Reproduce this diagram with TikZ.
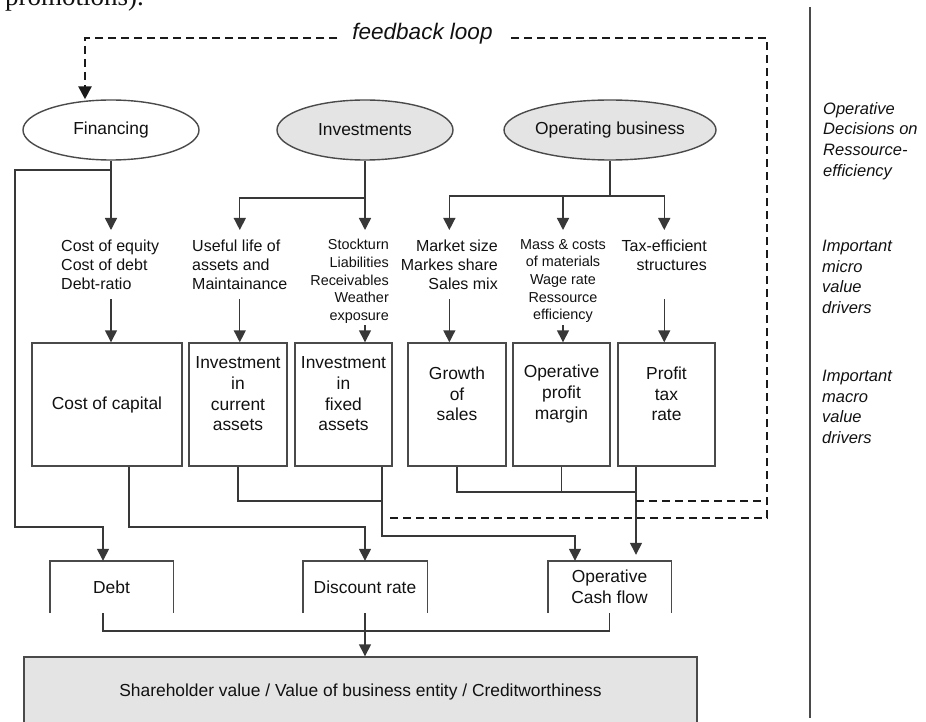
\documentclass[tikz,border=0pt]{standalone}
\usepackage{fontspec}
\setmainfont{Liberation Sans}
\newfontfamily\serifcut{Liberation Serif}
\usetikzlibrary{arrows.meta,shapes.geometric,calc}
\definecolor{linecol}{HTML}{383838}
\definecolor{boxcol}{HTML}{4A4A4A}
\definecolor{fillcol}{HTML}{E4E4E4}
\definecolor{txtcol}{HTML}{111111}
\definecolor{fbcol}{HTML}{1A1A1A}
\newcommand\fMic{\fontsize{16}{19}\selectfont}
\newcommand\fMis{\fontsize{14.4}{17.7}\selectfont}
\newcommand\fMac{\fontsize{17.4}{20.7}\selectfont}
\newcommand\fRt{\fontsize{16.5}{20.7}\selectfont\itshape}
\newcommand\fFb{\fontsize{22.5}{26}\selectfont\itshape}
\begin{document}
\begin{tikzpicture}[x=1pt,y=-1pt,
  conn/.style={draw=linecol,line width=1.4pt},
  arr/.style={conn,-{Triangle[width=12pt,length=12pt]}},
  fbline/.style={draw=fbcol,line width=2.6pt,dash pattern=on 8pt off 5pt},
  fbarr/.style={fbline,-{Triangle[width=13pt,length=13pt]}},
  boxline/.style={draw=boxcol,line width=1.4pt},
  oval/.style={ellipse,draw=boxcol,line width=1.4pt,minimum width=176pt,minimum height=60pt,inner sep=0pt,font=\fMac,text=txtcol},
  macbox/.style={rectangle,draw=boxcol,line width=1.4pt,minimum height=123pt,inner sep=0pt,text=txtcol},
  lowbox/.style={rectangle,minimum height=52pt,minimum width=123pt,inner sep=0pt,font=\fMac,align=center,text=txtcol},
  txt/.style={inner sep=0pt,text=txtcol},
  maclab/.style={txt,font=\fMac,align=center},
  rlab/.style={txt,font=\fRt,align=left,anchor=north west}
]
\useasboundingbox (0,0) rectangle (926,722);

% cut-off text at top of page
\node[txt,font=\serifcut\fontsize{27}{30}\selectfont,anchor=base west] (frag) at (5,6) {promotions).};

% level coordinates
\coordinate (h170) at (0,170);
\coordinate (h196) at (0,196);
\coordinate (h198) at (0,198);
\coordinate (h230) at (0,230);
\coordinate (h299) at (0,299);
\coordinate (h325) at (0,325);
\coordinate (h492) at (0,492);
\coordinate (h501) at (0,501);
\coordinate (h527) at (0,527);
\coordinate (h536) at (0,536);
\coordinate (h631) at (0,631);

% top level decisions
\node[oval] (fin) at (111,130) {Financing};
\node[oval,fill=fillcol] (inv) at (365,130) {Investments};
\node[oval,fill=fillcol] (opb) at (610,130) {Operating business};

% micro value drivers
\node[txt,font=\fMic,align=left,anchor=north west] (m1) at (61,240) {Cost of equity\\Cost of debt\\Debt-ratio};
\node[txt,font=\fMic,align=left,anchor=north west] (m2) at (192,240) {Useful life of\\assets and\\Maintainance};
\node[txt,font=\fMis,align=right,anchor=north east] (m3) at (389,239) {Stockturn\\Liabilities\\Receivables\\Weather\\exposure};
\node[txt,font=\fMic,align=right,anchor=north east] (m4) at (498,240) {Market size\\Markes share\\Sales mix};
\node[txt,font=\fMis,align=center,anchor=north] (m5) at (563,239) {Mass \& costs\\of materials\\Wage rate\\Ressource\\efficiency};
\node[txt,font=\fMic,align=right,anchor=north east] (m6) at (707,240) {Tax-efficient\\structures};

% macro value drivers
\node[macbox,minimum width=150pt,font=\fMac] (cc) at (107,404.5) {Cost of capital};
\node[macbox,minimum width=98pt] (ic) at (238,404.5) {};
\node[macbox,minimum width=97pt] (ifx) at (343.5,404.5) {};
\node[macbox,minimum width=98pt] (gs) at (457,404.5) {};
\node[macbox,minimum width=97pt] (opm) at (561.5,404.5) {};
\node[macbox,minimum width=97pt] (ptr) at (666.5,404.5) {};
\node[maclab] (icl) at (238,394) {Investment\\in\\current\\assets};
\node[maclab] (ifxl) at (343.5,394) {Investment\\in\\fixed\\assets};
\node[maclab] (gsl) at (457,394) {Growth\\of\\sales};
\node[maclab] (opml) at (561.5,394) {Operative\\profit\\margin};
\node[maclab] (ptrl) at (666.5,394) {Profit\\tax\\rate};

% lower boxes (open at the bottom)
\node[lowbox] (debt) at (111.5,587) {Debt};
\node[lowbox,minimum width=124pt] (dr) at (365,587) {Discount rate};
\node[lowbox] (ocf) at (609.5,587) {Operative\\Cash flow};
\draw[boxline] (debt.south west) |- (debt.north east) -- (debt.south east);
\draw[boxline] (dr.south west) |- (dr.north east) -- (dr.south east);
\draw[boxline] (ocf.south west) |- (ocf.north east) -- (ocf.south east);

% result
\node[rectangle,draw=boxcol,fill=fillcol,line width=1.4pt,minimum width=673pt,minimum height=70pt,inner sep=0pt,font=\fMac,text=txtcol] (sv) at (360.5,692) {Shareholder value / Value of business entity / Creditworthiness};

% right column
\draw[draw=boxcol,line width=1.4pt] (810,7) -- (810,718);
\node[rlab] (r1) at (823,102) {Operative\\Decisions on\\Ressource-\\efficiency};
\node[rlab] (r2) at (822,240) {Important\\micro\\value\\drivers};
\node[rlab] (r3) at (822,370) {Important\\macro\\value\\drivers};

% helper coordinates on box edges
\coordinate (fLeft) at (15,170);
\coordinate (debtIn) at ([xshift=-8.5pt]debt.north);
\coordinate (debtOut) at ([xshift=-8.5pt]debt.south);
\coordinate (ccOut) at ([xshift=22pt]cc.south);
\coordinate (ifxo) at ([xshift=38.5pt]ifx.south);
\coordinate (ptro) at ([xshift=-30.5pt]ptr.south);
\coordinate (ocfIn) at ([xshift=-34.5pt]ocf.north);

% financing connectors
\draw[arr] (fin.south) -- (fin.south |- h230);
\draw[arr] (fin.south |- fLeft) -- (fLeft) -- (fLeft |- h527) -| (debtIn);
\draw[arr] (fin.south |- h299) -- (fin.south |- cc.north);
\draw[arr] (ccOut) -- (ccOut |- h527) -| (dr.north);

% investments connectors
\draw[arr] (inv.south) -- (inv.south |- h230);
\draw[arr] (inv.south |- h198) -| (m2.north |- h230);
\draw[arr] (m2.south |- h299) -- (m2.south |- ic.north);
\draw[arr] (inv.south |- h325) -- (inv.south |- ifx.north);

% operating business connectors
\draw[conn] (opb.south) -- (opb.south |- h196);
\draw[arr] (opb.south |- h196) -| (m4.north |- h230);
\draw[arr] (opb.south |- h196) -| (m6.north |- h230);
\draw[arr] (m5.north |- h196) -- (m5.north |- h230);
\draw[arr] (m4.south |- h299) -- (m4.south |- gs.north);
\draw[arr] (m5.south |- h325) -- (m5.south |- opm.north);
\draw[arr] (m6.south |- h299) -- (m6.south |- ptr.north);

% macro to results
\draw[conn] (ic.south) |- (ifxo |- h501);
\draw[arr] (ifxo) -- (ifxo |- h536) -| (ocfIn);
\draw[conn] (gs.south) |- (ptro |- h492);
\draw[conn] (opm.south) -- (opm.south |- h492);
\draw[arr,shorten >=6pt] (ptro) -- (ptro |- ocf.north);
\draw[conn] (debtOut) |- (ocf.south |- h631) -- (ocf.south);
\draw[arr] (dr.south) -- (dr.south |- sv.north);

% feedback loop
\node[txt,font=\fFb,inner xsep=15pt,anchor=base] (fbt) at (422.5,40) {feedback loop};
\coordinate (fbTL) at (85,38);
\coordinate (fbTR) at (767,38);
\coordinate (fbBR) at (767,518);
\coordinate (fbBL) at (390,518);
\coordinate (fbUp) at (767,501);
\draw[fbline] (fbBL) -- (fbBR) -- (fbTR) -- (fbt.east |- fbTR);
\draw[fbline] (ptro |- fbUp) -- (fbUp);
\draw[fbarr] (fbt.west |- fbTL) -- (fbTL) -- (fbTL |- fin.north);
\end{tikzpicture}
\end{document}
